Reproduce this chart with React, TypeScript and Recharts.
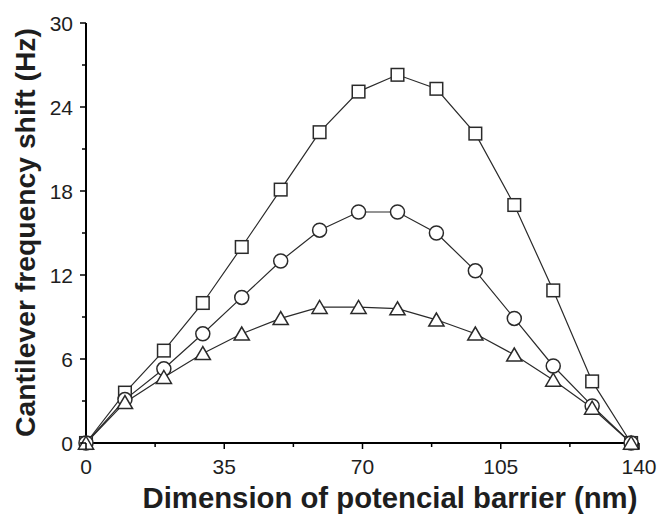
import { LineChart, Line, XAxis, YAxis } from "recharts";

// barrier dimension (nm)
const barrier = [0, 9.86, 19.71, 29.57, 39.43, 49.29, 59.14, 69, 78.86, 88.71, 98.57, 108.43, 118.29, 128.14, 138];
// frequency shift (Hz) for the three curves
const squareShift = [0, 3.6, 6.6, 10.0, 14.0, 18.1, 22.2, 25.1, 26.3, 25.3, 22.1, 17.0, 10.9, 4.4, 0];
const circleShift = [0, 3.1, 5.3, 7.8, 10.4, 13.0, 15.2, 16.5, 16.5, 15.0, 12.3, 8.9, 5.5, 2.65, 0];
const triangleShift = [0, 2.9, 4.7, 6.4, 7.8, 8.9, 9.7, 9.7, 9.6, 8.8, 7.8, 6.3, 4.5, 2.5, 0];

const xTicks = [0, 17.5, 35, 52.5, 70, 87.5, 105, 122.5, 140];
const yTicks = [0, 3, 6, 9, 12, 15, 18, 21, 24, 27, 30];

const data = barrier.map((x, i) => ({
  x,
  sq: squareShift[i],
  ci: circleShift[i],
  tr: triangleShift[i],
}));

const FONT = '"Liberation Sans", Arial, Helvetica, sans-serif';
const INK = "#1e1e1e";
const MARK = "#2a2a2a";

function XTick(props: any) {
  const { x, y, payload } = props;
  const major = payload.value % 35 === 0;
  return (
    <g>
      <line x1={x} y1={y} x2={x} y2={y + (major ? 6 : 4)} stroke="#000" strokeWidth={1.5} />
      {major && (
        <text x={x} y={y + 30.5} textAnchor="middle" fontSize={21} fontFamily={FONT} fill={INK}>
          {payload.value}
        </text>
      )}
    </g>
  );
}

function YTick(props: any) {
  const { x, y, payload } = props;
  const major = payload.value % 6 === 0;
  return (
    <g>
      <line x1={x} y1={y} x2={x - (major ? 6 : 4)} y2={y} stroke="#000" strokeWidth={1.5} />
      {major && (
        <text x={x - 13} y={y} dy="0.36em" textAnchor="end" fontSize={21} fontFamily={FONT} fill={INK}>
          {payload.value}
        </text>
      )}
    </g>
  );
}

const squareDot = (p: any) => (
  <rect key={`sq-${p.index}`} x={p.cx - 6.3} y={p.cy - 6.3} width={12.6} height={12.6} fill="#fff" stroke={MARK} strokeWidth={1.5} />
);
const circleDot = (p: any) => (
  <circle key={`ci-${p.index}`} cx={p.cx} cy={p.cy} r={7} fill="#fff" stroke={MARK} strokeWidth={1.5} />
);
const triangleDot = (p: any) => (
  <polygon
    key={`tr-${p.index}`}
    points={`${p.cx},${p.cy - 6.8} ${p.cx - 7.6},${p.cy + 6.2} ${p.cx + 7.6},${p.cy + 6.2}`}
    fill="#fff"
    stroke={MARK}
    strokeWidth={1.5}
  />
);

export default function App() {
  return (
    <div style={{ position: "absolute", left: 0, top: 0, width: 659, height: 514, overflow: "hidden" }}>
      <LineChart width={659} height={514} data={data} margin={{ top: 23, right: 20, bottom: 0, left: 0 }}>
        <XAxis
          dataKey="x"
          type="number"
          domain={[0, 140]}
          ticks={xTicks}
          interval={0}
          height={71}
          tickSize={0}
          tickMargin={0}
          tickLine={false}
          tick={XTick}
          axisLine={{ stroke: "#000", strokeWidth: 2 }}
          label={{
            content: () => (
              <text x={390} y={508} textAnchor="middle" fontSize={29.3} fontWeight="bold" fontFamily={FONT} fill={INK}>
                Dimension of potencial barrier (nm)
              </text>
            ),
          }}
        />
        <XAxis
          xAxisId="top"
          orientation="top"
          type="number"
          domain={[0, 140]}
          height={0}
          tick={false}
          tickLine={false}
          axisLine={{ stroke: "#000", strokeWidth: 2 }}
        />
        <YAxis
          type="number"
          domain={[0, 30]}
          ticks={yTicks}
          interval={0}
          width={86}
          tickSize={0}
          tickMargin={0}
          tickLine={false}
          tick={YTick}
          axisLine={{ stroke: "#000", strokeWidth: 2 }}
          label={{
            content: () => (
              <text
                x={35}
                y={232.5}
                transform="rotate(-90, 35, 232.5)"
                textAnchor="middle"
                fontSize={28.3}
                fontWeight="bold"
                fontFamily={FONT}
                fill={INK}
              >
                Cantilever frequency shift (Hz)
              </text>
            ),
          }}
        />
        <YAxis
          yAxisId="right"
          orientation="right"
          type="number"
          domain={[0, 30]}
          width={0}
          tick={false}
          tickLine={false}
          axisLine={{ stroke: "#000", strokeWidth: 2 }}
        />
        <Line dataKey="sq" stroke={MARK} strokeWidth={1.2} dot={squareDot} activeDot={false} isAnimationActive={false} />
        <Line dataKey="ci" stroke={MARK} strokeWidth={1.2} dot={circleDot} activeDot={false} isAnimationActive={false} />
        <Line dataKey="tr" stroke={MARK} strokeWidth={1.2} dot={triangleDot} activeDot={false} isAnimationActive={false} />
      </LineChart>
    </div>
  );
}
